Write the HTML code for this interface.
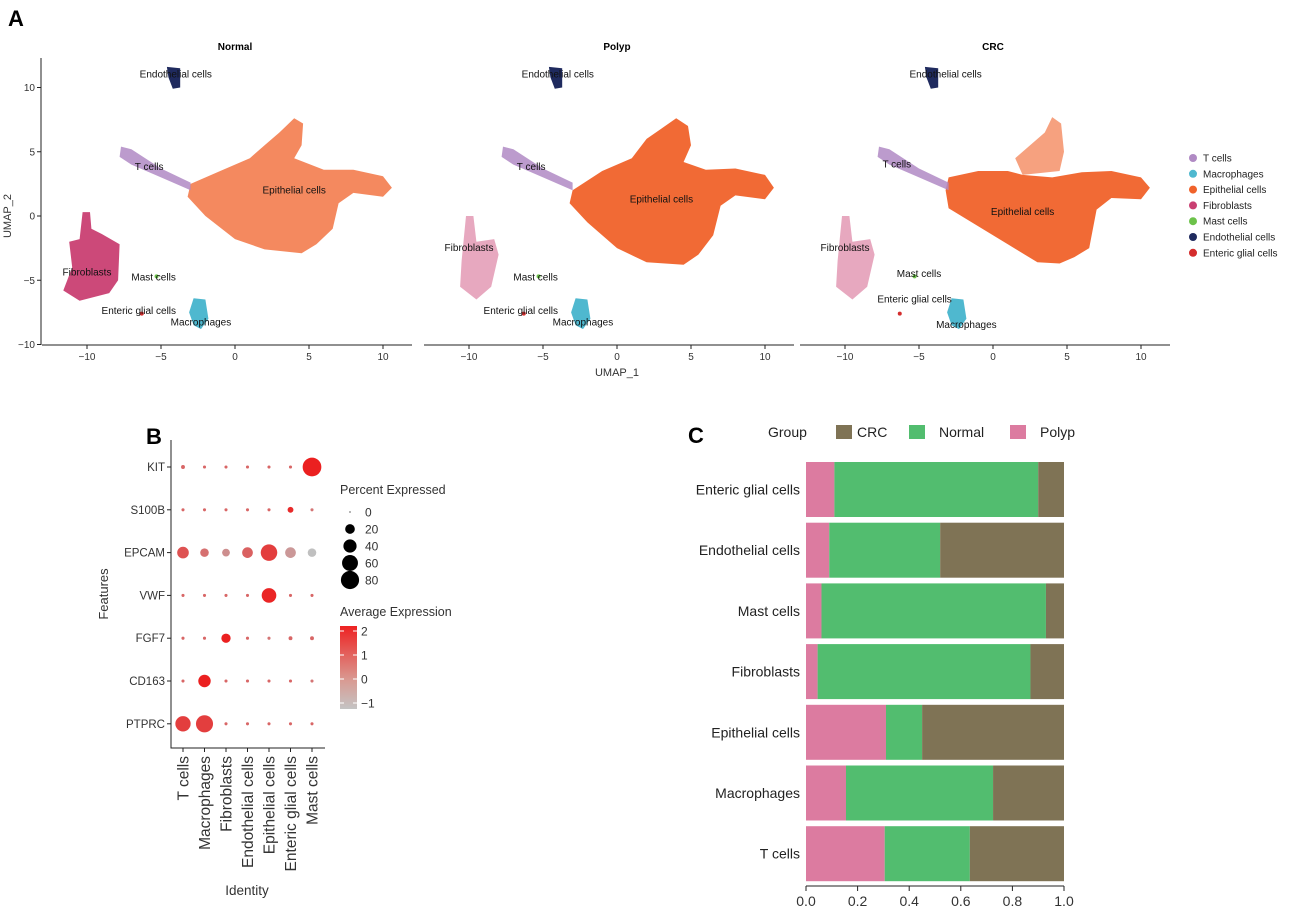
<!DOCTYPE html>
<html><head><meta charset="utf-8"><style>
html,body{margin:0;padding:0;background:#fff}
svg{display:block;font-family:"Liberation Sans",Arial,sans-serif}
</style></head><body>
<svg id="fig" width="1299" height="907" viewBox="0 0 1299 907">
<text x="8" y="26" font-size="22" font-weight="bold">A</text>
<text x="146" y="444" font-size="22" font-weight="bold">B</text>
<text x="688" y="443" font-size="22" font-weight="bold">C</text>
<g id="pa"></g>
<g id="pb"></g>
<g id="pc"></g>
</svg>
<script>
// ---------- Panel A data ----------
const panels = ["Normal","Polyp","CRC"];
const cellTypes = ["T cells","Macrophages","Epithelial cells","Fibroblasts","Mast cells","Endothelial cells","Enteric glial cells"];
const cellColors = ["#b08ac4","#4fb8cf","#f0622a","#c93f72","#6cc24a","#1f2a5e","#d42d2d"];
const umapTicks = [-10,-5,0,5,10];
const epiNormal = [[-3,2.5],[-1,3.5],[1,4.5],[2,5.5],[3,6.5],[4,7.6],[4.6,7.2],[4.5,5.5],[4,4.5],[6,3.6],[8,3.6],[10,3.1],[10.6,2.2],[10,1.5],[8,1.8],[7,1],[6.6,-1],[5.5,-2.2],[4.5,-2.9],[2,-2.6],[0,-1.8],[-2,0],[-3.2,1.5]];
const epiPolyp = [[-3,2],[-1,3.5],[1,4.5],[2,6],[3,6.8],[4,7.6],[4.8,7],[5,5.5],[4.5,4.2],[6,3.6],[8,3.7],[10,3.2],[10.6,2.2],[10,1.3],[8,1.6],[7,0.8],[6.5,-1.5],[5.5,-3],[4.5,-3.8],[2,-3.6],[0,-2.5],[-2,-0.5],[-3.2,1]];
const epiCRC = [[-3,3],[-1,3.5],[1,3.5],[2,3.2],[4,3],[6,3.4],[8,3.5],[10,3],[10.6,2.2],[10,1.3],[8,1.4],[7,0.5],[6.5,-2.5],[5.5,-3.2],[4.5,-3.7],[3,-3.6],[1,-2.2],[-1,-0.8],[-3,0.6],[-3.2,2]];
const crcTip = [[1.5,4.5],[3.5,6.5],[4,7.7],[4.6,7.2],[4.8,5],[4.5,3.5],[2,3.2]];
const tStrip = [[-7.7,5.4],[-7,5.2],[-5,3.7],[-3,2.6],[-3,2],[-5,3],[-7,4],[-7.8,4.6]];
const fibroNormal = [[-10.3,0.3],[-9.8,0.3],[-9.7,-1],[-9,-1.4],[-7.8,-2.2],[-7.9,-5],[-8.5,-6],[-10.5,-6.6],[-11.6,-5.8],[-11,-4],[-11.2,-2],[-10.5,-1.8]];
const fibroSparse = [[-10.2,0],[-9.7,0],[-9.5,-2],[-8.3,-1.8],[-8,-3],[-8.5,-5.5],[-9.5,-6.5],[-10.6,-5.5],[-10.5,-3.5]];
const endo = [[-4.6,11.6],[-3.7,11.5],[-3.7,10],[-4.2,9.9],[-4.5,10.8]];
const macro = [[-2.8,-6.4],[-2,-6.5],[-1.8,-8],[-2.3,-8.8],[-2.8,-8.5],[-3.1,-7.5]];
const labelPos = [[-5.8,3.8],[-2.3,-8.3],[4,2],[-10,-4.4],[-5.5,-4.8],[-4,11],[-6.5,-7.4]];
const labelPosB = [[-5.8,3.8],[-2.3,-8.3],[3,1.3],[-10,-2.5],[-5.5,-4.8],[-4,11],[-6.5,-7.4]];
const labelPosC = [[-6.5,4],[-1.8,-8.5],[2,0.3],[-10,-2.5],[-5,-4.5],[-3.2,11],[-5.3,-6.5]];

// ---------- Panel B data ----------
const genes = ["KIT","S100B","EPCAM","VWF","FGF7","CD163","PTPRC"];
const identities = ["T cells","Macrophages","Fibroblasts","Endothelial cells","Epithelial cells","Enteric glial cells","Mast cells"];
const pctExpr = [
 [2,1,1,1,1,1,85],
 [1,1,1,1,1,6,1],
 [30,15,12,25,65,25,15],
 [1,1,1,1,50,1,1],
 [1,1,18,1,1,2,2],
 [1,35,1,1,1,1,1],
 [55,70,1,1,1,1,1]];
const avgExpr = [
 [0.8,0.8,0.8,0.8,0.8,0.8,2.2],
 [0.8,0.8,0.8,0.8,0.8,2,0.5],
 [1.2,0.6,0,0.9,1.6,-0.2,-1],
 [0.8,0.8,0.8,0.8,2.1,0.8,0.8],
 [0.8,0.8,2.2,0.8,0.5,0.8,0.8],
 [0.8,2.2,0.8,0.8,0.8,0.8,0.5],
 [1.6,1.6,0.8,0.8,0.8,0.8,0.8]];
const sizeLegend = [0,20,40,60,80];
const colorTicks = [2,1,0,-1];

// ---------- Panel C data ----------
const barCats = ["Enteric glial cells","Endothelial cells","Mast cells","Fibroblasts","Epithelial cells","Macrophages","T cells"];
const polypFrac = [0.11,0.09,0.06,0.045,0.31,0.155,0.305];
const normalFrac = [0.79,0.43,0.87,0.825,0.14,0.57,0.33];
const crcFrac = [0.10,0.48,0.07,0.13,0.55,0.275,0.365];
const groups = ["CRC","Normal","Polyp"];
const groupColors = ["#7f7355","#52bd6f","#dc7ba0"];
const barTicks = [0,0.2,0.4,0.6,0.8,1.0];

const NS="http://www.w3.org/2000/svg";
function mk(parent,tag,attrs,text){const e=document.createElementNS(NS,tag);for(const k in attrs)e.setAttribute(k,attrs[k]);if(text!==undefined)e.textContent=text;parent.appendChild(e);return e;}

// ===== Panel A =====
const pa=document.getElementById('pa');
const zeros=[235,617,993];
const sxA=14.8, syA=12.85, y0A=216;
function ux(p,v){return zeros[p]+sxA*v;}
function uy(v){return y0A-syA*v;}
function poly(p,pts){return pts.map(q=>ux(p,q[0]).toFixed(1)+","+uy(q[1]).toFixed(1)).join(" ");}
const epis=[epiNormal,epiPolyp,epiCRC];
const fibros=[fibroNormal,fibroSparse,fibroSparse];
const labs=[labelPos,labelPosB,labelPosC];
panels.forEach((nm,p)=>{
  const g=mk(pa,'g',{});
  
  
  const t=mk(g,'text',{x:zeros[p],y:50,'font-size':10,'font-weight':'bold','text-anchor':'middle'},nm);
  
  
  const e=mk(g,'polygon',{points:poly(p,epis[p]),fill:cellColors[2],'fill-opacity':p===0?0.75:0.95});
  
  
  if(p===2){const e2=mk(g,'polygon',{points:poly(p,crcTip),fill:cellColors[2],'fill-opacity':0.6});
    
    }
  const ts=mk(g,'polygon',{points:poly(p,tStrip),fill:cellColors[0],'fill-opacity':0.85});
  
  
  const fb=mk(g,'polygon',{points:poly(p,fibros[p]),fill:cellColors[3],'fill-opacity':p===0?0.95:0.45});
  
  
  const en=mk(g,'polygon',{points:poly(p,endo),fill:cellColors[5]});
  
  
  const mc=mk(g,'polygon',{points:poly(p,macro),fill:cellColors[1]});
  
  
  const ms=mk(g,'circle',{cx:ux(p,-5.3),cy:uy(-4.7),r:2,fill:cellColors[4]});
  
  
  const eg=mk(g,'circle',{cx:ux(p,-6.3),cy:uy(-7.6),r:2,fill:cellColors[6]});
  
  
  cellTypes.forEach((c,i)=>{
    const l=mk(g,'text',{x:ux(p,labs[p][i][0]),y:uy(labs[p][i][1])+3,'font-size':10,'text-anchor':'middle',fill:'#111'},c);
    
    
  });
  const x1=zeros[p]-193, x2=zeros[p]+177;
  const ax=mk(g,'line',{x1:x1,x2:x2,y1:345,y2:345,stroke:'#222','stroke-width':1});
  
  
  umapTicks.forEach(v=>{
    mk(g,'line',{x1:ux(p,v),x2:ux(p,v),y1:345,y2:349,stroke:'#222'});
    const tl=mk(g,'text',{x:ux(p,v),y:360,'font-size':10,'text-anchor':'middle',fill:'#333'},v<0?'\u2212'+(-v):v);
    
    
  });
});
const yax=mk(pa,'line',{x1:41,x2:41,y1:58,y2:345,stroke:'#222'});


umapTicks.forEach(v=>{
  mk(pa,'line',{x1:37,x2:41,y1:uy(v),y2:uy(v),stroke:'#222'});
  const tl=mk(pa,'text',{x:35,y:uy(v)+3.5,'font-size':10,'text-anchor':'end',fill:'#333'},v<0?'\u2212'+(-v):v);
  
  
});
const xt=mk(pa,'text',{x:617,y:376,'font-size':11,'text-anchor':'middle',fill:'#333'},'UMAP_1');


const yt=mk(pa,'text',{x:11,y:216,'font-size':11,'text-anchor':'middle',fill:'#333',transform:'rotate(-90 11 216)'},'UMAP_2');


cellTypes.forEach((c,i)=>{
  const y=158+i*15.8;
  const g=mk(pa,'g',{});
  
  
  mk(g,'circle',{cx:1193,cy:y,r:4,fill:cellColors[i]});
  mk(g,'text',{x:1203,y:y+3.5,'font-size':10,fill:'#222'},c);
});

// ===== Panel B =====
const pb=document.getElementById('pb');
const bx0=183, bdx=21.5, by0=467, bdy=42.8;
function bx(i){return bx0+i*bdx;}
function by(j){return by0+j*bdy;}
function rad(p){return 0.6+Math.sqrt(p)*0.95;}
function ecol(v){const t=Math.max(0,Math.min(1,(v+1)/3.2));const a=[192,192,192],b=[235,32,32];return `rgb(${Math.round(a[0]+(b[0]-a[0])*t)},${Math.round(a[1]+(b[1]-a[1])*t)},${Math.round(a[2]+(b[2]-a[2])*t)})`;}
const bal=mk(pb,'path',{d:'M171,440 V748 H325',fill:'none',stroke:'#222','stroke-width':1});


genes.forEach((gn,j)=>{
  mk(pb,'line',{x1:167,x2:171,y1:by(j),y2:by(j),stroke:'#222'});
  const l=mk(pb,'text',{x:165,y:by(j)+4,'font-size':11.5,'text-anchor':'end',fill:'#333'},gn);
  
  
  identities.forEach((id,i)=>{
    const c=mk(pb,'circle',{cx:bx(i),cy:by(j),r:rad(pctExpr[j][i]),fill:ecol(avgExpr[j][i])});
    
    
  });
});
identities.forEach((id,i)=>{
  mk(pb,'line',{x1:bx(i),x2:bx(i),y1:748,y2:752,stroke:'#222'});
  const l=mk(pb,'text',{x:bx(i)+5.5,y:756,'font-size':15.5,'text-anchor':'end',fill:'#333',transform:`rotate(-90 ${bx(i)+5.5} 756)`},id);
  
  
});
const it=mk(pb,'text',{x:247,y:895,'font-size':13.5,'text-anchor':'middle',fill:'#333'},'Identity');


const ft=mk(pb,'text',{x:108,y:594,'font-size':13,'text-anchor':'middle',fill:'#333',transform:'rotate(-90 108 594)'},'Features');


const pe=mk(pb,'text',{x:340,y:494,'font-size':12.5,fill:'#333'},'Percent Expressed');


sizeLegend.forEach((v,k)=>{
  const y=512+k*17;
  const g=mk(pb,'g',{});
  
  
  mk(g,'circle',{cx:350,cy:y,r:rad(v),fill:'#000'});
  mk(g,'text',{x:365,y:y+4.5,'font-size':12,fill:'#333'},v);
});
const ae=mk(pb,'text',{x:340,y:616,'font-size':12.5,fill:'#333'},'Average Expression');


const defs=mk(pb,'defs',{});
const lg=mk(defs,'linearGradient',{id:'cg',x1:0,y1:1,x2:0,y2:0});
mk(lg,'stop',{offset:'0','stop-color':'#c4c4c4'});
mk(lg,'stop',{offset:'0.35','stop-color':'#d99a92'});
mk(lg,'stop',{offset:'1','stop-color':'#ee2222'});
const cb=mk(pb,'rect',{x:340,y:626,width:17,height:83,fill:'url(#cg)'});


colorTicks.forEach(v=>{
  const y=679-v*24;
  mk(pb,'line',{x1:340,x2:344,y1:y,y2:y,stroke:'#fff'});
  mk(pb,'line',{x1:353,x2:357,y1:y,y2:y,stroke:'#fff'});
  const l=mk(pb,'text',{x:361,y:y+4.5,'font-size':12,fill:'#333'},v<0?'\u2212'+(-v):v);
  
  
});

// ===== Panel C =====
const pc=document.getElementById('pc');
const cx0=806, cw=258, cy0=462, cstep=60.7, ch=55;
function cx(v){return cx0+v*cw;}
function cy(i){return cy0+i*cstep;}
const lgT=mk(pc,'text',{x:768,y:437,'font-size':14,fill:'#222'},'Group');


const lx=[836,909,1010];
groups.forEach((gname,k)=>{
  const g=mk(pc,'g',{});
  
  
  mk(g,'rect',{x:lx[k],y:425,width:16,height:14,fill:groupColors[k]});
  mk(g,'text',{x:lx[k]+(k===0?21:30),y:437,'font-size':14,fill:'#222'},gname);
});
barCats.forEach((c,i)=>{
  const y=cy(i);
  const p=polypFrac[i], n=normalFrac[i], r=crcFrac[i];
  const b1=mk(pc,'rect',{x:cx(0),y:y,width:cx(p)-cx(0),height:ch,fill:groupColors[2]});
  
  
  const b2=mk(pc,'rect',{x:cx(p),y:y,width:cx(p+n)-cx(p),height:ch,fill:groupColors[1]});
  
  
  const b3=mk(pc,'rect',{x:cx(p+n),y:y,width:cx(p+n+r)-cx(p+n),height:ch,fill:groupColors[0]});
  
  
  const l=mk(pc,'text',{x:800,y:y+ch/2+5,'font-size':14,'text-anchor':'end',fill:'#222'},c);
  
  
});
const cax=mk(pc,'line',{x1:cx(0),x2:cx(1),y1:886,y2:886,stroke:'#222'});


barTicks.forEach(v=>{
  mk(pc,'line',{x1:cx(v),x2:cx(v),y1:886,y2:891,stroke:'#222'});
  const l=mk(pc,'text',{x:cx(v),y:906,'font-size':14,'text-anchor':'middle',fill:'#333'},v.toFixed(1));
  
  
});
</script>
</body></html>
